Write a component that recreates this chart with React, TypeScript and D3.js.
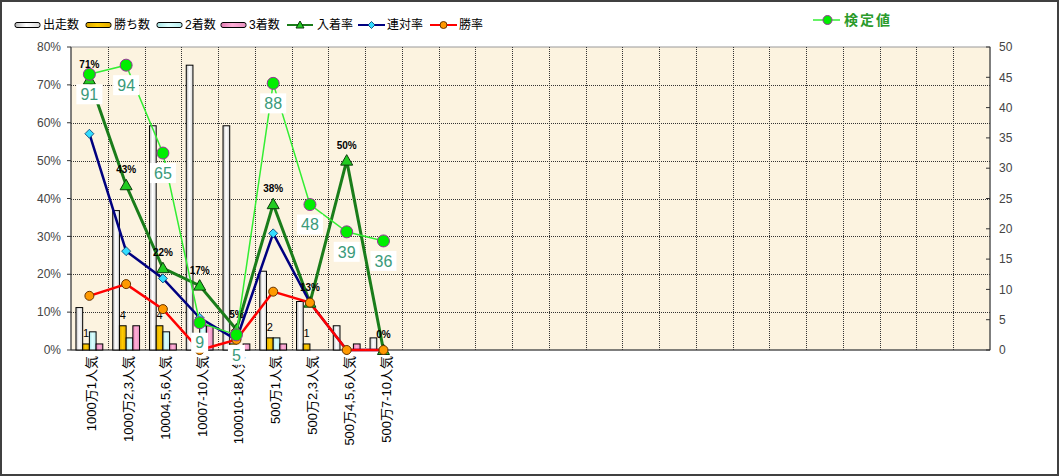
import React from "react";
import * as d3 from "d3";

const categories = ["1000万1人気", "1000万2,3人気", "10004,5,6人気", "10007-10人気", "100010-18人気", "500万1人気", "500万2,3人気", "500万4,5,6人気", "500万7-10人気"];
const runs = [7, 23, 37, 47, 37, 13, 8, 4, 2];
const wins = [1, 4, 4, 0, 1, 2, 1, 0, 0];
const seconds = [3, 2, 3, 4, 0, 2, 0, 0, 0];
const thirds = [1, 4, 1, 4, 1, 1, 0, 1, 0];
const placeRate = [0.714, 0.435, 0.216, 0.17, 0.054, 0.385, 0.125, 0.5, 0];
const placeLabels = ["71%", "43%", "22%", "17%", "5%", "38%", "13%", "50%", "0%"];
const quinellaRate = [0.571, 0.261, 0.189, 0.085, 0.027, 0.308, 0.125, 0, 0];
const winRate = [0.143, 0.174, 0.108, 0, 0.027, 0.154, 0.125, 0, 0];
const testValues = [91, 94, 65, 9, 5, 88, 48, 39, 36];
const leftTicks = [0, 0.1, 0.2, 0.3, 0.4, 0.5, 0.6, 0.7, 0.8];
const rightTicks = [0, 5, 10, 15, 20, 25, 30, 35, 40, 45, 50];
const slotCount = 25;

const W = 1059, H = 476;
const L = 71, R = 990, T = 47, B = 350;
const FONT = "'Liberation Sans', Arial, 'Noto Sans CJK JP', sans-serif";

export default function App() {
  const x = d3.scaleBand<number>().domain(d3.range(slotCount)).range([L, R]).paddingInner(0).paddingOuter(0);
  const bw = x.bandwidth();
  const barW = (bw * 0.73) / 4;
  const cx = (i: number) => (x(i) as number) + bw / 2;
  const yL = d3.scaleLinear().domain([0, 0.8]).range([B, T]);
  const yR = d3.scaleLinear().domain([0, 50]).range([B, T]);
  const yK = d3.scaleLinear().domain([0, 100]).range([B, T]);

  const line = d3.line<[number, number]>().x(d => d[0]).y(d => d[1]);
  const pts = (arr: number[], s: (v: number) => number) => arr.map((v, i) => [cx(i), s(v)] as [number, number]);

  const barSeries = [
    { data: runs, fill: "url(#gWhite)" },
    { data: wins, fill: "url(#gGold)" },
    { data: seconds, fill: "url(#gCyan)" },
    { data: thirds, fill: "url(#gPink)" },
  ];

  const tri = (px: number, py: number, s = 6) => `M${px},${py - s}L${px + s},${py + s * 0.75}L${px - s},${py + s * 0.75}Z`;
  const dia = (px: number, py: number, s = 4.5) => `M${px},${py - s}L${px + s},${py}L${px},${py + s}L${px - s},${py}Z`;

  return (
    <svg width={W} height={H} style={{ position: "absolute", left: 0, top: 0 }} fontFamily={FONT}>
      <defs>
        <linearGradient id="gWhite" x1="0" x2="1" y1="0" y2="0">
          <stop offset="0" stopColor="#b8b8b8" />
          <stop offset="0.45" stopColor="#ffffff" />
          <stop offset="1" stopColor="#d8d8d8" />
        </linearGradient>
        <linearGradient id="gGold" x1="0" x2="1" y1="0" y2="0">
          <stop offset="0" stopColor="#d9a400" />
          <stop offset="0.45" stopColor="#ffcc00" />
          <stop offset="1" stopColor="#e0aa00" />
        </linearGradient>
        <linearGradient id="gCyan" x1="0" x2="1" y1="0" y2="0">
          <stop offset="0" stopColor="#a8e4e4" />
          <stop offset="0.45" stopColor="#dcffff" />
          <stop offset="1" stopColor="#b8ecec" />
        </linearGradient>
        <linearGradient id="gPink" x1="0" x2="1" y1="0" y2="0">
          <stop offset="0" stopColor="#e07ab0" />
          <stop offset="0.45" stopColor="#ffb0d8" />
          <stop offset="1" stopColor="#e890c0" />
        </linearGradient>
      </defs>
      <rect x={1} y={1} width={W - 2} height={H - 2} fill="#ffffff" stroke="#404040" strokeWidth={2} />

      {/* plot background */}
      <rect x={L} y={T} width={R - L} height={B - T} fill="#fcf3e0" stroke="#9a9a9a" strokeWidth={1} />
      {d3.range(1, slotCount).map(i => (
        <line key={"vg" + i} x1={Math.round(x(i) as number) + 0.5} x2={Math.round(x(i) as number) + 0.5} y1={T} y2={B} stroke="#333" strokeWidth={1} strokeDasharray="1 1" />
      ))}
      {leftTicks.slice(1, -1).map(t => (
        <line key={"hg" + t} x1={L} x2={R} y1={Math.round(yL(t)) + 0.5} y2={Math.round(yL(t)) + 0.5} stroke="#333" strokeWidth={1} strokeDasharray="1 1" />
      ))}

      {/* axes */}
      <line x1={L} x2={L} y1={T} y2={B} stroke="#333" />
      <line x1={R} x2={R} y1={T} y2={B} stroke="#333" />
      <line x1={L} x2={R} y1={B} y2={B} stroke="#333" />
      {leftTicks.map(t => (
        <g key={"lt" + t}>
          <line x1={L - 4} x2={L} y1={yL(t)} y2={yL(t)} stroke="#333" />
          <text x={61} y={yL(t)} dy="0.35em" textAnchor="end" fontSize={12} fill="#444">{Math.round(t * 100) + "%"}</text>
        </g>
      ))}
      {rightTicks.map(t => (
        <g key={"rt" + t}>
          <line x1={R - 4} x2={R} y1={yR(t)} y2={yR(t)} stroke="#333" />
          <text x={999} y={yR(t)} dy="0.35em" textAnchor="start" fontSize={12} fill="#444">{t}</text>
        </g>
      ))}

      {/* bars */}
      {barSeries.map((s, k) =>
        s.data.map((v, i) => {
          const x0 = cx(i) - 2 * barW + k * barW;
          return <rect key={"b" + k + "-" + i} x={x0} y={yR(v)} width={barW} height={B - yR(v)} fill={s.fill} stroke="#000" strokeWidth={1} />;
        })
      )}
      {wins.map((v, i) => v > 0 ? (
        <text key={"wl" + i} x={cx(i) - barW / 2} y={yR(v) - 7} textAnchor="middle" fontSize={11} fill="#000">{v}</text>
      ) : null)}

      {/* x labels */}
      {categories.map((c, i) => (
        <text key={"xl" + i} transform={`translate(${cx(i) + 2.5},356) rotate(-90)`} dy="0.35em" textAnchor="end" fontSize={13} fill="#000">{c}</text>
      ))}

      {/* lines */}
      <path d={line(pts(placeRate, yL)) || ""} fill="none" stroke="#1a7d1a" strokeWidth={3} />
      <path d={line(pts(quinellaRate, yL)) || ""} fill="none" stroke="#000080" strokeWidth={2.5} />
      <path d={line(pts(winRate, yL)) || ""} fill="none" stroke="#ff0000" strokeWidth={2.5} />
      {pts(placeRate, yL).map(([px, py], i) => (
        <path key={"tr" + i} d={tri(px, py)} fill="#22cc22" stroke="#0a3a0a" strokeWidth={1} />
      ))}
      {pts(quinellaRate, yL).map(([px, py], i) => (
        <path key={"dm" + i} d={dia(px, py)} fill="#33ddff" stroke="#003366" strokeWidth={0.8} />
      ))}
      {pts(winRate, yL).map(([px, py], i) => (
        <circle key={"wc" + i} cx={px} cy={py} r={4.5} fill="#ff9900" stroke="#663300" strokeWidth={1} />
      ))}
      {pts(placeRate, yL).map(([px, py], i) => (
        <text key={"pl" + i} x={px} y={py - 12} textAnchor="middle" fontSize={10} fontWeight="bold" fill="#000">{placeLabels[i]}</text>
      ))}

      {/* test values */}
      <path d={line(pts(testValues, yK)) || ""} fill="none" stroke="#33ee33" strokeWidth={1.5} />
      {pts(testValues, yK).map(([px, py], i) => (
        <circle key={"kc" + i} cx={px} cy={py} r={6} fill="#00ee00" stroke="#993399" strokeWidth={1} />
      ))}
      {pts(testValues, yK).map(([px, py], i) => {
        const w = String(testValues[i]).length * 9 + 8;
        return (
          <g key={"kl" + i}>
            <rect x={px - w / 2} y={py + 10} width={w} height={20} fill="#ffffff" />
            <text x={px} y={py + 20} dy="0.36em" textAnchor="middle" fontSize={16} fill="#3a9a7a">{testValues[i]}</text>
          </g>
        );
      })}

      {/* legend */}
      {[
        { label: "出走数", fill: "url(#gWhite)", x: 15 },
        { label: "勝ち数", fill: "url(#gGold)", x: 86 },
        { label: "2着数", fill: "url(#gCyan)", x: 157 },
        { label: "3着数", fill: "url(#gPink)", x: 221 },
      ].map(d => (
        <g key={d.label}>
          <rect x={d.x} y={22.5} width={25} height={5} rx={2} fill={d.fill} stroke="#000" strokeWidth={1} />
          <text x={d.x + 28} y={25} dy="0.36em" fontSize={12} fill="#000">{d.label}</text>
        </g>
      ))}
      <g>
        <line x1={287} x2={313} y1={25} y2={25} stroke="#1a7d1a" strokeWidth={2} />
        <path d={tri(300, 25, 4)} fill="#22cc22" stroke="#0a3a0a" strokeWidth={1} />
        <text x={317} y={25} dy="0.36em" fontSize={12} fill="#000">入着率</text>
      </g>
      <g>
        <line x1={358} x2={385} y1={25} y2={25} stroke="#000080" strokeWidth={2} />
        <path d={dia(371.5, 25, 3.5)} fill="#33ddff" stroke="#003366" strokeWidth={0.8} />
        <text x={387} y={25} dy="0.36em" fontSize={12} fill="#000">連対率</text>
      </g>
      <g>
        <line x1={430} x2={457} y1={25} y2={25} stroke="#ff0000" strokeWidth={2} />
        <circle cx={443.5} cy={25} r={3.5} fill="#ff9900" stroke="#663300" strokeWidth={1} />
        <text x={459} y={25} dy="0.36em" fontSize={12} fill="#000">勝率</text>
      </g>
      <g>
        <line x1={813} x2={840} y1={20} y2={20} stroke="#33ee33" strokeWidth={1.5} />
        <circle cx={827.5} cy={20} r={4.5} fill="#00ee00" stroke="#993399" strokeWidth={1} />
        <text x={844} y={20} dy="0.36em" fontSize={14} fontWeight="bold" letterSpacing={2} fill="#2a9a2a">検定値</text>
      </g>
    </svg>
  );
}
